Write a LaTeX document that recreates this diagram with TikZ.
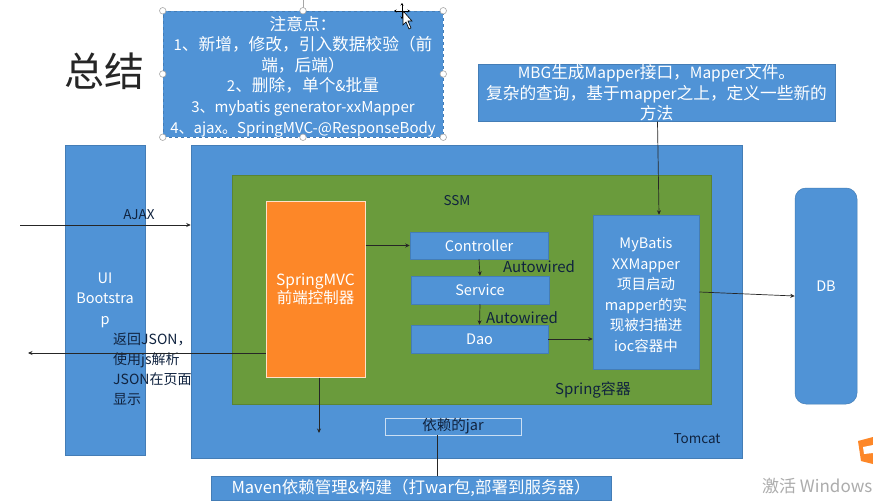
\documentclass[tikz,border=0pt]{standalone}
\usepackage{fontspec}
\setmainfont{Noto Sans CJK SC}
\usetikzlibrary{arrows.meta}
\definecolor{boxblue}{HTML}{5093D6}
\definecolor{ssmgreen}{HTML}{6A9B3C}
\definecolor{mvcorange}{HTML}{FD8728}
\definecolor{darktext}{HTML}{10233F}
\newcommand{\bigcn}[1]{{\fontsize{16.7}{20.6}\selectfont #1}}
\tikzset{
  bluebox/.style={fill=boxblue, draw=boxblue!85!black, line width=0.5pt, inner sep=0pt, text=white, align=center, font=\fontsize{14.5}{20.6}\selectfont},
  darklabel/.style={inner sep=0pt, text=darktext, font=\fontsize{13.5}{20}\selectfont},
  handle/.style={circle, fill=white, draw=gray!70, line width=0.6pt, minimum size=6.5pt, inner sep=0pt},
  link/.style={black!85, line width=0.7pt, -{Stealth[length=4.5pt,width=4pt]}}
}
\begin{document}
\begin{tikzpicture}[x=1pt, y=-1pt]
	  \useasboundingbox (0,0) rectangle (873,503);
	  \fill[white] (0,0) rectangle (873,503);
	  \node[inner sep=0pt, text=black!85, font=\fontsize{40}{40}\selectfont] (title) at (104.5,71) {总结};
	  % notes box, still selected on the slide
	  \node[bluebox, dashed, minimum width=280pt, minimum height=126pt, font=\fontsize{15}{20.6}\selectfont] (notes) at (303,74) {\rule{0pt}{19pt}\bigcn{注意点：}\\1\bigcn{、新增，修改，引入数据校验（前}\\\bigcn{端，后端）}\\2\bigcn{、删除，单个}\&\bigcn{批量}\\3、mybatis generator-xxMapper\\4、ajax。SpringMVC-@ResponseBody};
	  \coordinate (rothandle) at (303,0);
	  \draw[gray!70, line width=0.6pt] (rothandle) -- (notes.north);
	  \foreach \a in {north west,north,north east,west,east,south west,south,south east}
	    \node[handle] (h-\a) at (notes.\a) {};
	  \node[bluebox, minimum width=357pt, minimum height=56pt, font=\fontsize{15.5}{20.5}\selectfont] (mbg) at (656.5,93) {MBG\bigcn{生成}Mapper\bigcn{接口，}Mapper\bigcn{文件。}\\\bigcn{复杂的查询，基于}mapper\bigcn{之上，定义一些新的}\\\bigcn{方法}};
	  \node[bluebox, minimum width=80pt, minimum height=310pt] (ui) at (105,300) {UI\\Bootstra\\p};
	  \node[bluebox, minimum width=551pt, minimum height=313pt] (tomcat) at (466.5,301.5) {};
	  \node[fill=ssmgreen, draw=ssmgreen!85!black, line width=0.5pt, minimum width=479pt, minimum height=229pt] (ssm) at (471.5,289.5) {};
	  \node[fill=mvcorange, draw=white!75!mvcorange, line width=1pt, minimum width=99pt, minimum height=176pt, inner sep=0pt, text=white, align=center, font=\fontsize{15.5}{18.5}\selectfont] (springmvc) at (315.5,289) {SpringMVC\\前端控制器};
	  \node[bluebox, minimum width=138pt, minimum height=27pt] (controller) at (479,245.5) {Controller};
	  \node[bluebox, minimum width=138pt, minimum height=28pt] (service) at (480,290) {Service};
	  \node[bluebox, minimum width=137pt, minimum height=28pt] (dao) at (479.5,339) {Dao};
	  \node[bluebox, minimum width=106pt, minimum height=154pt] (mybatis) at (646,292) {\rule{0pt}{17pt}MyBatis\\XXMapper\\项目启动\\mapper的实\\现被扫描进\\ioc容器中};
	  \node[bluebox, rounded corners=11pt, minimum width=62pt, minimum height=216pt, label={[text=white, inner sep=0pt, yshift=10pt, font=\fontsize{14.5}{20.6}\selectfont]center:DB}] (db) at (826,296) {};
	  \node[bluebox, draw=white!70!boxblue, minimum width=136pt, minimum height=17pt, text=darktext] (jar) at (453,426.5) {依赖的jar};
	  \node[bluebox, minimum width=400pt, minimum height=24pt, font=\fontsize{16.5}{20}\selectfont] (maven) at (411,488) {Maven依赖管理\&构建（打war包,部署到服务器）};
	  % labels
	  \node[darklabel] (ajaxlbl) at (139,215) {AJAX};
	  \node[darklabel] (ssmlbl) at (457,201) {SSM};
	  \node[darklabel, font=\fontsize{15}{20}\selectfont] (auto1) at (539,267) {Autowired};
	  \node[darklabel, font=\fontsize{15}{20}\selectfont] (auto2) at (522,318) {Autowired};
	  \node[darklabel, font=\fontsize{15}{20}\selectfont] (springlbl) at (593,390) {Spring容器};
	  \node[darklabel] (tomcatlbl) at (697,439) {Tomcat};
	  \node[darklabel, anchor=north west, align=left, font=\fontsize{14}{20}\selectfont] (retlbl) at (113,333) {返回JSON，\\使用js解析\\JSON在页面\\显示};
	  % connectors
	  \coordinate (ajaxin) at (20,225);
	  \coordinate (retout) at (28,353);
	  \draw[link] (ajaxin) -- (tomcat.west |- ajaxin);
	  \draw[link] (springmvc.west |- retout) -- (retout);
	  \draw[link] (springmvc.east |- controller) -- (controller.west);
	  \draw[link] (controller.south) -- (service.north);
	  \draw[link] (service.south) -- (dao.north);
	  \draw[link] (dao.east) -- (mybatis.west |- dao);
	  \draw[link] (mbg.south) ++(1,0) -- (mybatis.north -| 659,0);
	  \draw[link] (mybatis.east) -- (db.west);
	  \coordinate (mvcdown) at (319,433);
	  \draw[link] (springmvc.south -| mvcdown) -- (mvcdown);
	  \draw[black!85, line width=0.7pt] (jar.south -| 437,0) -- (maven.north -| 437,0);
	  % mouse pointer over the notes box
	  \draw[black, line width=0.8pt, <->, >={Stealth[length=2.5pt,width=3pt]}] (402,3) -- (402,19);
	  \draw[black, line width=0.8pt, <->, >={Stealth[length=2.5pt,width=3pt]}] (394,11) -- (410,11);
	  \filldraw[fill=white, draw=black, line width=0.6pt] (403,11) -- (403,25) -- (406,22) -- (409,29) -- (411,28) -- (408,21) -- (412,21) -- cycle;
	  % bottom right corner of the screen
	  \node[anchor=west, inner sep=0pt, text=gray!65, font=\fontsize{17}{17}\selectfont] (watermark) at (762,486) {激活 Windows};
	  \fill[mvcorange] (873,437) -- (858,441) -- (861,461) -- (873,464) -- cycle;
	  \fill[white] (873,445) -- (863,447) -- (864,454) -- (873,453) -- cycle;
	\end{tikzpicture}
\end{document}
